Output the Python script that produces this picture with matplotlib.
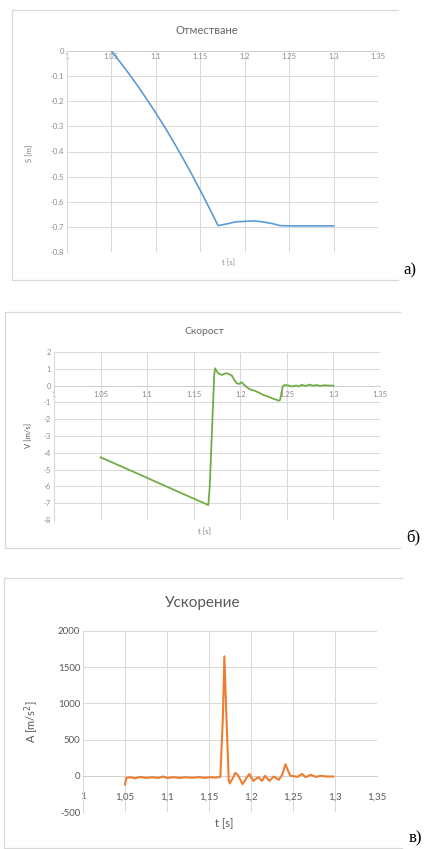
import matplotlib
matplotlib.use("Agg")
import matplotlib.pyplot as plt
from matplotlib.lines import Line2D

plt.rcParams['font.family'] = ['Lato', 'Noto Sans', 'DejaVu Sans']

# --- data ---
# a) displacement
t_s = [1.05, 1.06, 1.07, 1.08, 1.09, 1.10, 1.11, 1.12, 1.13, 1.14, 1.15, 1.16, 1.17,
       1.18, 1.19, 1.20, 1.21, 1.22, 1.23, 1.24, 1.25, 1.26, 1.27, 1.28, 1.29, 1.30]
s_val = [0.0, -0.045, -0.092, -0.141, -0.193, -0.247, -0.303, -0.362, -0.424, -0.488,
         -0.555, -0.624, -0.695, -0.688, -0.680, -0.678, -0.676, -0.680, -0.686, -0.695,
         -0.696, -0.696, -0.696, -0.696, -0.696, -0.696]

# b) velocity
t_v = [1.05, 1.08, 1.11, 1.14, 1.1657, 1.1672, 1.172, 1.1729, 1.176, 1.180, 1.1835,
       1.1865, 1.1908, 1.1935, 1.196, 1.199, 1.2015, 1.204, 1.207, 1.2104, 1.214, 1.2176,
       1.221, 1.2248, 1.228, 1.232, 1.236, 1.2395, 1.241, 1.2427, 1.244, 1.2455, 1.248,
       1.252, 1.256, 1.26, 1.263, 1.266, 1.27, 1.274, 1.278, 1.282, 1.286, 1.29, 1.295, 1.30]
v_val = [-4.27, -5.0, -5.74, -6.48, -7.11, -6.0, 0.6, 1.03, 0.75, 0.63, 0.72,
         0.72, 0.6, 0.35, 0.14, 0.1, 0.2, 0.05, -0.1, -0.22, -0.28, -0.36,
         -0.45, -0.56, -0.62, -0.70, -0.8, -0.85, -0.90, -0.86, -0.5, -0.06, 0.04,
         0.0, -0.05, 0.0, -0.05, 0.05, -0.02, 0.06, 0.0, 0.03, -0.02, 0.02, 0.0, 0.0]

# c) acceleration
t_a = [1.05, 1.0515, 1.056, 1.062, 1.068, 1.075, 1.082, 1.09, 1.095, 1.10, 1.108, 1.115,
       1.122, 1.13, 1.138, 1.145, 1.152, 1.158, 1.1635, 1.1665, 1.1683, 1.1705, 1.1735,
       1.1746, 1.178, 1.1813, 1.1845, 1.1875, 1.190, 1.194, 1.198, 1.2005, 1.203, 1.206,
       1.209, 1.213, 1.217, 1.2195, 1.222, 1.227, 1.233, 1.237, 1.241, 1.2445, 1.247,
       1.251, 1.255, 1.261, 1.265, 1.271, 1.277, 1.283, 1.29, 1.298]
a_val = [-120, -30, -20, -35, -15, -30, -20, -30, -10, -30, -20, -30,
         -20, -28, -18, -28, -20, -25, -15, 800, 1650, 900, -60,
         -105, -40, 40, 10, -60, -115, -40, 25, -30, -70, -40,
         -20, -70, 0, -40, -70, -10, -55, 10, 160, 60, 0,
         -5, -15, 25, -20, 15, -15, 0, -10, -10]

x_ticks = [1.0, 1.05, 1.1, 1.15, 1.2, 1.25, 1.3, 1.35]
x_labels_dot = ['1', '1.05', '1.1', '1.15', '1.2', '1.25', '1.3', '1.35']
x_labels_comma = ['1', '1,05', '1,1', '1,15', '1,2', '1,25', '1,3', '1,35']
s_ticks = [0, -0.1, -0.2, -0.3, -0.4, -0.5, -0.6, -0.7, -0.8]
v_ticks = [2, 1, 0, -1, -2, -3, -4, -5, -6, -7, -8]
a_ticks = [2000, 1500, 1000, 500, 0, -500]

W, H = 429, 849
fig = plt.figure(figsize=(W / 100, H / 100), dpi=100)

GRID = '#d9d9d9'


def px_axes(l, t, r, b):
    return fig.add_axes([l / W, 1 - b / H, (r - l) / W, (b - t) / H])


def frame(l, t, r, b):
    # chart border (left, top, bottom visible)
    xs = [r / W, l / W, l / W, r / W]
    ys = [1 - t / H, 1 - t / H, 1 - b / H, 1 - b / H]
    fig.add_artist(Line2D(xs, ys, color=GRID, lw=0.9, transform=fig.transFigure))


def style(ax, xlabels, yticks, fs, color, xpad):
    ax.set_xlim(1.0, 1.35)
    ax.set_ylim(min(yticks), max(yticks))
    ax.set_xticks(x_ticks)
    ax.set_xticklabels(xlabels)
    ax.set_yticks(yticks)
    ax.set_yticklabels([str(v) for v in yticks])
    ax.grid(True, color=GRID, lw=0.7)
    ax.set_axisbelow(True)
    for sp in ['top', 'right']:
        ax.spines[sp].set_visible(False)
    ax.spines['left'].set_color(GRID)
    ax.spines['bottom'].set_color('#cfcfcf')
    ax.spines['bottom'].set_linewidth(0.7)
    ax.spines['bottom'].set_position(('data', 0))
    ax.tick_params(length=0, labelsize=fs, labelcolor=color, pad=2)
    ax.tick_params(axis='x', pad=xpad)
    ax.set_facecolor('none')


# a)
frame(12, 10, 398, 280)
ax1 = px_axes(67, 51, 378, 252)
ax1.plot(t_s, s_val, color='#5b9bd5', lw=1.2, zorder=3)
style(ax1, x_labels_dot, s_ticks, 5.5, '#8c8c8c', 1.5)
fig.text(207 / W, 1 - 30 / H, 'Отместване', ha='center', va='center', fontsize=8, color='#666666')
fig.text(30 / W, 1 - 153 / H, 'S [m]', ha='center', va='center', rotation=90, fontsize=5.5, color='#7f7f7f')
fig.text(228 / W, 1 - 263 / H, 't [s]', ha='center', va='center', fontsize=5.5, color='#8c8c8c')
fig.text(410 / W, 1 - 270 / H, 'a)', ha='center', va='center', fontsize=12, family='Liberation Serif')

# б)
frame(5, 312, 400, 548)
ax2 = px_axes(54, 352, 380, 520)
ax2.plot(t_v, v_val, color='#70ad47', lw=1.3, zorder=3)
style(ax2, x_labels_dot, v_ticks, 5.5, '#8c8c8c', 4)
fig.text(204 / W, 1 - 332 / H, 'Скорост', ha='center', va='center', fontsize=7.5, color='#666666')
fig.text(29 / W, 1 - 435 / H, 'V [m/s]', ha='center', va='center', rotation=90, fontsize=5.5, color='#595959')
fig.text(204 / W, 1 - 532 / H, 't [s]', ha='center', va='center', fontsize=5.5, color='#7f7f7f')
fig.text(413 / W, 1 - 538 / H, 'б)', ha='center', va='center', fontsize=12, family='Liberation Serif')

# в)
frame(4, 578, 402, 848)
ax3 = px_axes(83, 631, 377, 812)
ax3.plot(t_a, a_val, color='#ed7d31', lw=1.5, zorder=3)
style(ax3, x_labels_comma, a_ticks, 7, '#595959', 12)
fig.text(203 / W, 1 - 603 / H, 'Ускорение', ha='center', va='center', fontsize=11, color='#595959')
fig.text(32 / W, 1 - 722 / H, 'A [m/s$^2$]', ha='center', va='center', rotation=90, fontsize=8, color='#595959')
fig.text(224 / W, 1 - 824 / H, 't [s]', ha='center', va='center', fontsize=8, color='#595959')
fig.text(415 / W, 1 - 838 / H, 'в)', ha='center', va='center', fontsize=12, family='Liberation Serif')

fig.savefig('out.png', dpi=100)
